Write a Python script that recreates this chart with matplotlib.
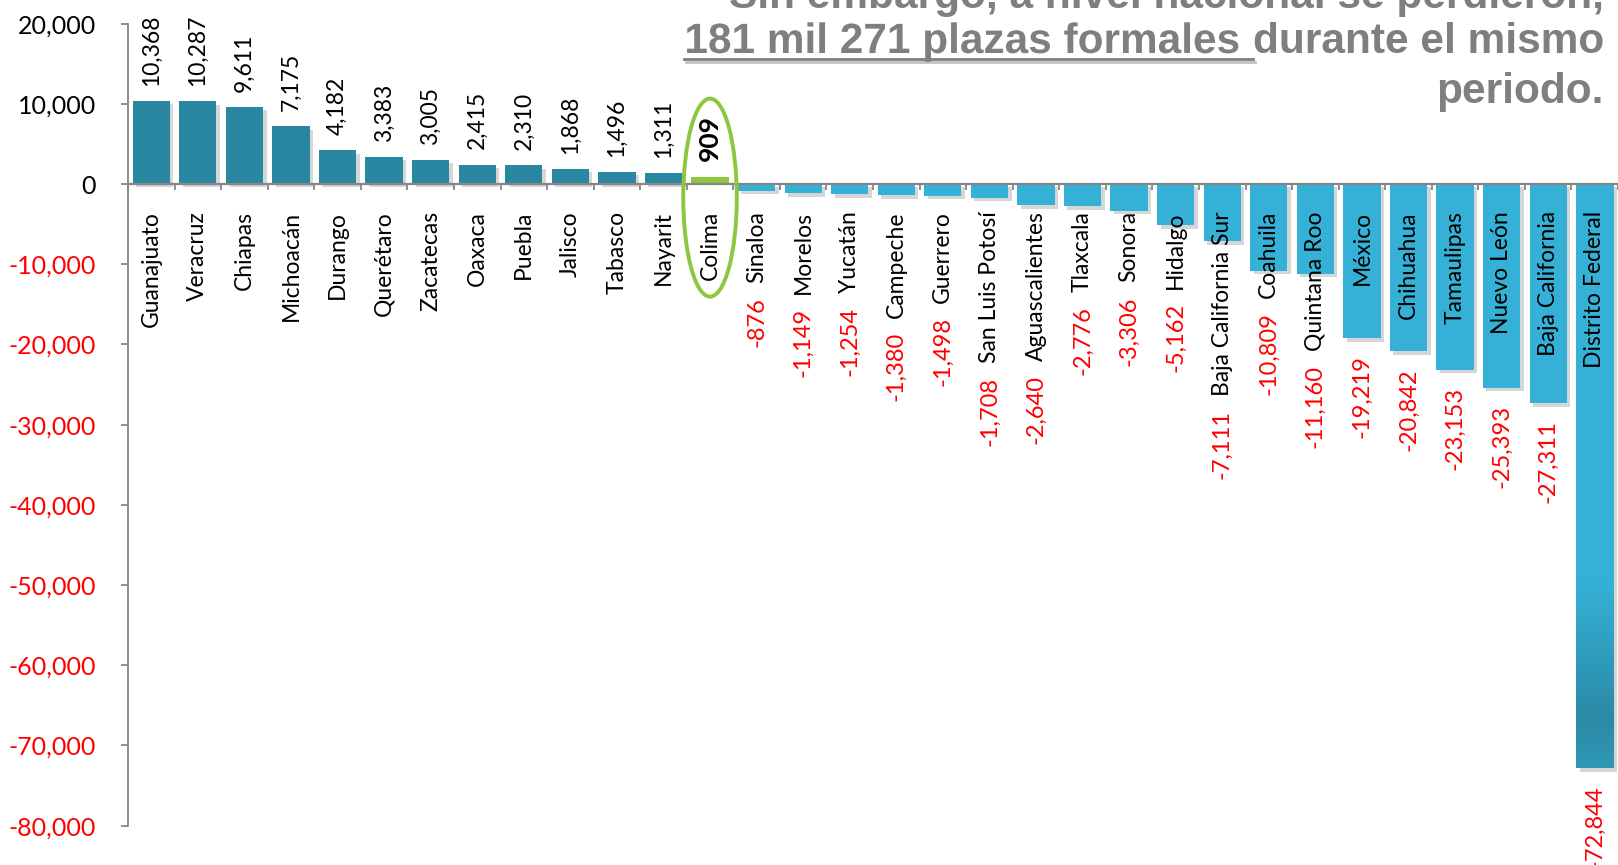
import numpy as np
import matplotlib
matplotlib.use("Agg")
import matplotlib.pyplot as plt
import matplotlib.patheffects as pe
from matplotlib.patches import Ellipse
from matplotlib.lines import Line2D
from matplotlib.colors import LinearSegmentedColormap
from matplotlib.ticker import FuncFormatter

# === DATA ===
states = [
    "Guanajuato", "Veracruz", "Chiapas", "Michoacán", "Durango", "Querétaro",
    "Zacatecas", "Oaxaca", "Puebla", "Jalisco", "Tabasco", "Nayarit", "Colima",
    "Sinaloa", "Morelos", "Yucatán", "Campeche", "Guerrero", "San Luis Potosí",
    "Aguascalientes", "Tlaxcala", "Sonora", "Hidalgo", "Baja California Sur",
    "Coahuila", "Quintana Roo", "México", "Chihuahua", "Tamaulipas",
    "Nuevo León", "Baja California", "Distrito Federal",
]
values = [
    10368, 10287, 9611, 7175, 4182, 3383, 3005, 2415, 2310, 1868, 1496, 1311,
    909, -876, -1149, -1254, -1380, -1498, -1708, -2640, -2776, -3306, -5162,
    -7111, -10809, -11160, -19219, -20842, -23153, -25393, -27311, -72844,
]
highlight = "Colima"
yticks = np.arange(-80000, 20001, 10000)

title_line1 = "Sin embargo, a nivel nacional se perdieron,"
title_bold = "181 mil 271 plazas formales "
title_rest = "durante el mismo"
title_line3 = "periodo."

# === STYLE ===
DARK = "#2A87A1"
LIGHT = "#35B1D7"
GREEN = "#8DC63F"
GRAY = "#868686"
TITLE_GRAY = "#7F7F7F"

plt.rcParams["font.family"] = ["Lato", "DejaVu Sans"]

W, H = 1618, 865
fig = plt.figure(figsize=(W / 100, H / 100), dpi=100)
ax = fig.add_axes([128 / W, 1 - 825.6 / H, 1 - 128 / W, (825.6 - 23.6) / H])
ax.set_axisbelow(False)  # category names sit on top of the bars

x = np.arange(len(states))
colors = [GREEN if s == highlight else (DARK if v > 0 else LIGHT)
          for s, v in zip(states, values)]
bars = ax.bar(x, values, width=0.8, color=colors, zorder=2)
shadow = [pe.SimplePatchShadow(offset=(2.5, -2.5), shadow_rgbFace="#9a9a9a", alpha=0.4),
          pe.Normal()]
for b, s in zip(bars, states):
    if s != highlight:
        b.set_path_effects(shadow)

# gradient on the deepest bar
i_min = int(np.argmin(values))
b = bars[i_min]
grad = np.linspace(0, 1, 256).reshape(-1, 1)
cmap = LinearSegmentedColormap.from_list(
    "deep", [(0, LIGHT), (0.68, LIGHT), (0.92, "#2A8AA6"), (1, "#2F98B5")])
im = ax.imshow(grad, cmap=cmap, aspect="auto", origin="upper", zorder=2.1,
               extent=[b.get_x(), b.get_x() + b.get_width(), values[i_min], 0])
im.set_clip_path(b)

ax.set_xlim(-0.5, 31.43)
ax.set_ylim(yticks[0], yticks[-1])

# === AXES ===
for side in ("top", "right"):
    ax.spines[side].set_visible(False)
ax.spines["bottom"].set_position(("data", 0))
ax.spines["bottom"].set_color(GRAY)
ax.spines["bottom"].set_linewidth(1.6)
ax.spines["left"].set_color(GRAY)
ax.spines["left"].set_linewidth(1.3)

ax.set_yticks(yticks)
ax.yaxis.set_major_formatter(FuncFormatter(lambda v, p: f"{v:,.0f}"))
ax.tick_params(axis="y", length=5, width=1.3, color=GRAY, labelsize=18, pad=18)

ax.set_xticks(x)
ax.set_xticklabels(states, rotation=90, ha="center", va="top", fontsize=16.5)
ax.set_xticks(np.arange(-0.5, len(states), 1), minor=True)
ax.tick_params(axis="x", which="major", length=0, pad=19.5)
ax.tick_params(axis="x", which="minor", length=4, width=1.3, color=GRAY)

fig.canvas.draw()
for lbl, v in zip(ax.get_yticklabels(), yticks):
    lbl.set_color("red" if v < 0 else "black")

# === VALUE LABELS ===
renderer = fig.canvas.get_renderer()
inv = ax.transData.inverted()
for xi, v, s, lbl in zip(x, values, states, ax.get_xticklabels()):
    if v > 0:
        bold = s == highlight
        ax.annotate(f"{v:,}", (xi, v), xytext=(0, 11), textcoords="offset points",
                    rotation=90, ha="center", va="bottom",
                    fontsize=19 if bold else 16.5,
                    fontweight="bold" if bold else "normal", color="black")
    else:
        bb = lbl.get_window_extent(renderer)
        bar_px = ax.transData.transform((xi, v))[1]
        y_px = min(bar_px - 17, bb.y0 - 14)
        y_data = inv.transform((0, y_px))[1]
        ax.text(xi, y_data, f"{v:,}", rotation=90, ha="center", va="top",
                fontsize=17, color="red", clip_on=False)

# circle around the highlighted state
ih = states.index(highlight)
ax.add_patch(Ellipse((ih, -1700), width=1.15, height=24700, fill=False,
                     ec=GREEN, lw=2.8, clip_on=False, zorder=5))

# === TITLE TEXT (top right, partly cut) ===
tfont = dict(family=["Liberation Sans Narrow", "Liberation Sans", "DejaVu Sans"],
             fontsize=30.5, fontweight="bold", color=TITLE_GRAY)
right = 1604 / W
fig.text(right, 1 - 8 / H, title_line1, ha="right", va="baseline", **tfont)
t_rest = fig.text(right, 1 - 53 / H, title_rest, ha="right", va="baseline", **tfont)
fig.canvas.draw()
bb_rest = t_rest.get_window_extent(renderer)
t_bold = fig.text(bb_rest.x0 / W, 1 - 53 / H, title_bold, ha="right", va="baseline",
                  path_effects=[pe.SimpleLineShadow(offset=(2, -2), shadow_color="#aaaaaa", alpha=0.7),
                                pe.Normal()],
                  **tfont)
fig.text(right, 1 - 103 / H, title_line3, ha="right", va="baseline", **tfont)
fig.canvas.draw()
bb_bold = t_bold.get_window_extent(renderer)
uy = 1 - 59 / H
fig.add_artist(Line2D([bb_bold.x0 / W, bb_bold.x1 / W], [uy, uy], transform=fig.transFigure,
                      color=TITLE_GRAY, lw=2,
                      path_effects=[pe.SimpleLineShadow(offset=(1.5, -2), shadow_color="#999999", alpha=0.6),
                                    pe.Normal()]))

fig.savefig("out.png", dpi=100)
